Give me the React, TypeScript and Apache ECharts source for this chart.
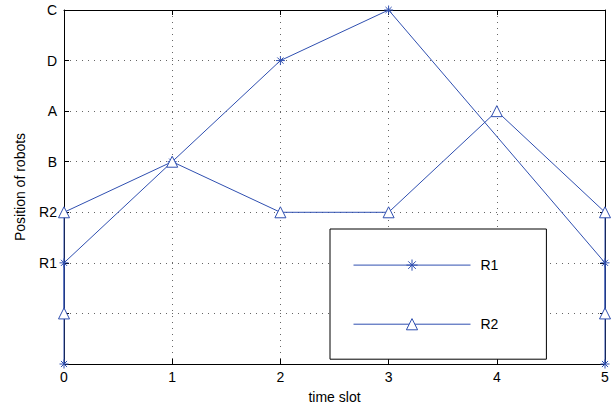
import React, { useEffect, useRef } from "react";
import * as echarts from "echarts";

const yLabels = ["", "", "R1", "R2", "B", "A", "D", "C"];
const r1Points: [number, number][] = [
  [0, 0], [0, 2], [1, 4], [2, 6], [3, 7], [5, 2], [5, 0],
];
const r2Points: [number, number][] = [
  [0, 1], [0, 3], [1, 4], [2, 3], [3, 3], [4, 5], [5, 3], [5, 1],
];
const seriesNames = ["R1", "R2"];

const BLUE = "#2f4fb0";
const FONT = "Liberation Sans, Arial, sans-serif";
const ASTERISK = "path://M5,0L5,10M0,5L10,5M1.6,1.6L8.4,8.4M1.6,8.4L8.4,1.6";

export default function App() {
  const ref = useRef<HTMLDivElement>(null);
  useEffect(() => {
    if (!ref.current) return;
    const chart = echarts.init(ref.current, undefined, { renderer: "svg" });
    const axisText = { color: "#000", fontFamily: FONT, fontSize: 14 };
    chart.setOption({
      animation: false,
      backgroundColor: "#fff",
      grid: { left: 64, right: 8, top: 10, bottom: 45, show: false },
      legend: {
        data: seriesNames,
        orient: "vertical",
        left: 330,
        top: 229,
        itemWidth: 117,
        itemHeight: 14,
        itemGap: 44,
        padding: [28, 48, 28, 23],
        borderColor: "#000",
        borderWidth: 1,
        backgroundColor: "#fff",
        lineStyle: { width: 1 },
        itemStyle: { borderWidth: 1 },
        textStyle: { ...axisText, padding: [0, 0, 0, 5] },
      },
      xAxis: [
        {
          type: "value",
          min: 0,
          max: 5,
          interval: 1,
          name: "time slot",
          nameLocation: "middle",
          nameGap: 26,
          nameTextStyle: axisText,
          axisLine: { show: true, onZero: false, lineStyle: { color: "#000" } },
          axisTick: { show: true, inside: true, length: 5, lineStyle: { color: "#000" } },
          axisLabel: { ...axisText, margin: 6 },
          splitLine: { show: true, lineStyle: { color: "#666", type: [1, 5], width: 1 } },
        },
        {
          type: "value",
          position: "top",
          min: 0,
          max: 5,
          interval: 1,
          axisLine: { show: true, onZero: false, lineStyle: { color: "#000" } },
          axisTick: { show: true, inside: true, length: 5, lineStyle: { color: "#000" } },
          axisLabel: { show: false },
          splitLine: { show: false },
        },
      ],
      yAxis: [
        {
          type: "value",
          min: 0,
          max: 7,
          interval: 1,
          name: "Position of robots",
          nameLocation: "middle",
          nameGap: 37,
          nameTextStyle: axisText,
          axisLine: { show: true, onZero: false, lineStyle: { color: "#000" } },
          axisTick: { show: true, inside: true, length: 5, lineStyle: { color: "#000" } },
          axisLabel: {
            ...axisText,
            margin: 7,
            formatter: (v: number) => yLabels[v] ?? "",
          },
          splitLine: { show: true, lineStyle: { color: "#666", type: [1, 5], width: 1 } },
        },
        {
          type: "value",
          position: "right",
          min: 0,
          max: 7,
          interval: 1,
          axisLine: { show: true, onZero: false, lineStyle: { color: "#000" } },
          axisTick: { show: true, inside: true, length: 5, lineStyle: { color: "#000" } },
          axisLabel: { show: false },
          splitLine: { show: false },
        },
      ],
      series: [
        {
          name: "R1",
          type: "line",
          data: r1Points,
          symbol: ASTERISK,
          symbolSize: 9,
          showAllSymbol: true,
          lineStyle: { color: BLUE, width: 1 },
          itemStyle: { color: "none", borderColor: BLUE, borderWidth: 1 },
          emphasis: { disabled: true },
        },
        {
          name: "R2",
          type: "line",
          data: r2Points,
          symbol: "triangle",
          symbolSize: 11,
          showAllSymbol: true,
          lineStyle: { color: BLUE, width: 1 },
          itemStyle: { color: "#fff", borderColor: BLUE, borderWidth: 1 },
          emphasis: { disabled: true },
        },
      ],
    });
    return () => chart.dispose();
  }, []);
  return (
    <div
      ref={ref}
      style={{ position: "fixed", left: 0, top: 0, width: 613, height: 409 }}
    />
  );
}
